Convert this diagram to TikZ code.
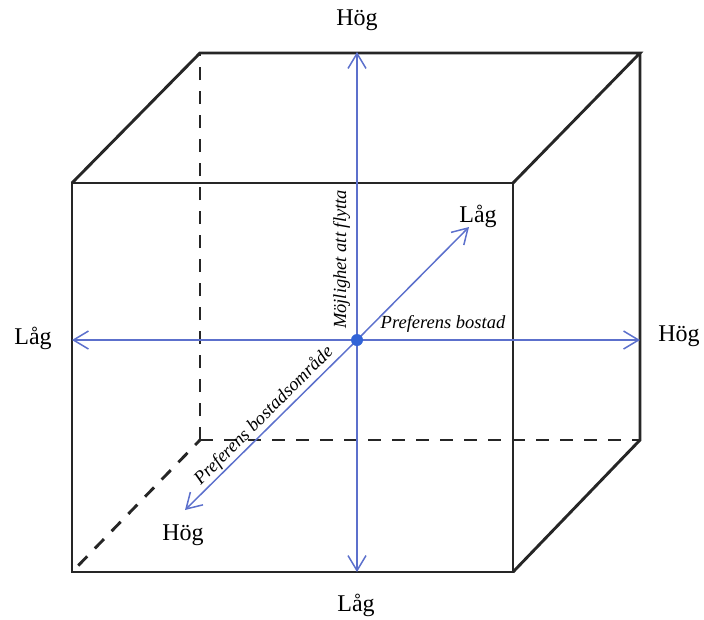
\documentclass[tikz,border=0pt]{standalone}
\usepackage{fontspec}
\setmainfont{Liberation Serif}
\usetikzlibrary{arrows.meta}
\definecolor{axisblue}{RGB}{92,112,204}
\definecolor{dotblue}{RGB}{50,100,215}
\begin{document}
\begin{tikzpicture}[x=1pt,y=-1pt,
 edge/.style={line width=2.9pt, black!85},
 hidden/.style={edge, dash pattern=on 13pt off 11pt},
 axis/.style={axisblue, line width=1.5pt, -{Straight Barb[length=15pt,width=18pt]}},
 endlabel/.style={font=\fontsize{24}{28}\selectfont, inner sep=0pt},
 axislabel/.style={font=\fontsize{18.5}{22}\selectfont\itshape, inner sep=0pt},
 dot/.style={circle, fill=dotblue, inner sep=0pt, minimum size=12pt}]
\useasboundingbox (0,0) rectangle (704,619);
% cube corners
\coordinate (F1) at (72,183);
\coordinate (F2) at (513,183);
\coordinate (F3) at (513,572);
\coordinate (F4) at (72,572);
\coordinate (B1) at (200,53);
\coordinate (B2) at (640,53);
\coordinate (B3) at (640,440);
\coordinate (B4) at (200,440);
% hidden edges
\draw[hidden] (B4) -- (B1);
\draw[hidden] (B4) -- (B3);
\draw[hidden, dash phase=6pt] (B4) -- (F4);
% visible edges
\draw[edge] (F1) -- (F2) -- (F3) -- (F4) -- cycle;
\draw[edge] (F1) -- (B1) -- (B2) -- (F2);
\draw[edge] (B2) -- (B3) -- (F3);
% axes
\coordinate (O) at (357,340);
\coordinate (AT) at (357,52);
\coordinate (AB) at (357,572);
\coordinate (AL) at (72,340);
\coordinate (AR) at (640,340);
\coordinate (AU) at (469,227);
\coordinate (AD) at (185,510);
\draw[axis] (O) -- (AT);
\draw[axis] (O) -- (AB);
\draw[axis] (O) -- (AL);
\draw[axis] (O) -- (AR);
\draw[axis] (O) -- (AU);
\draw[axis] (O) -- (AD);
\node[dot] (Odot) at (O) {};
% end labels
\node[endlabel] (hT) at (357,20) {Hög};
\node[endlabel] (lB) at (356,605) {Låg};
\node[endlabel] (lL) at (33,338) {Låg};
\node[endlabel] (hR) at (679,336) {Hög};
\node[endlabel] (lU) at (478,216) {Låg};
\node[endlabel] (hD) at (183,535) {Hög};
% axis labels
\node[axislabel, rotate=90] (moj) at (341.5,259.5) {Möjlighet att flytta};
\node[axislabel] (pb) at (443,324) {Preferens bostad};
\node[axislabel, rotate=45] (pbo) at (264,416) {Preferens bostadsområde};
\end{tikzpicture}
\end{document}
